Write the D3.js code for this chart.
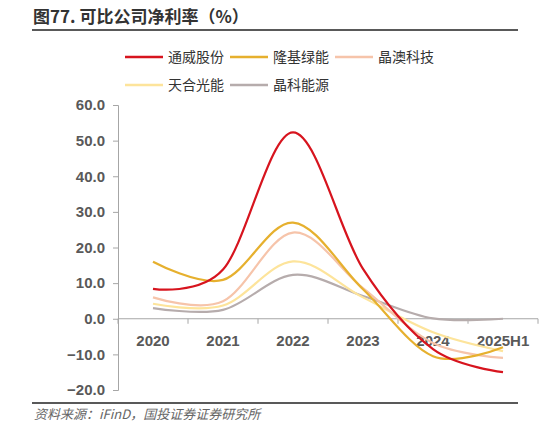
<!DOCTYPE html>
<html>
<head>
<meta charset="utf-8">
<script src="https://cdn.jsdelivr.net/npm/d3@7"></script>
<style>
  body { margin: 0; background: #fff; }
  svg { display: block; }
</style>
</head>
<body>
<div id="chart"></div>
<script>
// ---------------- data ----------------
var categories = ['2020', '2021', '2022', '2023', '2024', '2025H1'];
var seriesNames = ['通威股份', '隆基绿能', '晶澳科技', '天合光能', '晶科能源'];
var tongwei = [8.4, 13.8, 52.3, 14.0, -8.5, -15.0];
var longi   = [16.0, 10.9, 27.0, 8.3, -10.5, -8.0];
var jingao  = [6.0, 4.9, 24.2, 8.6, -6.8, -11.0];
var trina   = [4.2, 3.7, 16.1, 6.0, -3.8, -9.1];
var jinko   = [3.0, 2.5, 12.3, 6.4, 0.1, 0.0];
var yTicks  = [-20, -10, 0, 10, 20, 30, 40, 50, 60];

var seriesValues = [tongwei, longi, jingao, trina, jinko];
var colors = ['#D7141E', '#E6B02E', '#F6C4AA', '#FDE49B', '#B6ACAC'];

var width = 559, height = 430;
var numFont = '"Liberation Sans", Arial, sans-serif';
var cjkFont = '"Noto Sans CJK SC", sans-serif';

var svg = d3.select('#chart').append('svg')
    .attr('width', width)
    .attr('height', height);

// ---------------- title & frame lines ----------------
svg.append('text')
    .attr('x', 33).attr('y', 23)
    .style('font-family', cjkFont)
    .style('font-size', '17px')
    .style('font-weight', 'bold')
    .style('fill', '#333')
    .text('图77. 可比公司净利率（%）');

svg.append('line')
    .attr('x1', 32).attr('x2', 518).attr('y1', 30).attr('y2', 30)
    .style('stroke', '#222').style('stroke-width', 1.3);

svg.append('line')
    .attr('x1', 32).attr('x2', 518).attr('y1', 403).attr('y2', 403)
    .style('stroke', '#222').style('stroke-width', 1.3);

svg.append('text')
    .attr('x', 34).attr('y', 419)
    .style('font-family', cjkFont)
    .style('font-size', '13px')
    .style('font-style', 'italic')
    .style('fill', '#666')
    .text('资料来源：iFinD，国投证券证券研究所');

// ---------------- scales ----------------
var x = d3.scaleBand().domain(categories).range([118, 538]).padding(0);
var y = d3.scaleLinear().domain([-20, 60]).range([390, 105]);
var cx = function(c) { return x(c) + x.bandwidth() / 2; };

// y axis
var yAxis = svg.append('g')
    .attr('transform', 'translate(118,0)')
    .call(d3.axisLeft(y).tickValues(yTicks).tickSize(5).tickPadding(8)
        .tickFormat(d3.format('.1f')));
yAxis.select('.domain').style('stroke', '#a6a6a6');
yAxis.selectAll('.tick line').style('stroke', '#a6a6a6');
yAxis.selectAll('.tick text')
    .style('font-family', numFont)
    .style('font-size', '15px')
    .style('font-weight', 'bold')
    .style('fill', '#595959');

// x axis at zero
var xAxisG = svg.append('g').attr('transform', 'translate(0,' + y(0) + ')');
xAxisG.append('line')
    .attr('x1', x.range()[0]).attr('x2', x.range()[1])
    .style('stroke', '#a6a6a6');
var bounds = categories.map(function(c) { return x(c); }).concat([x.range()[1]]);
xAxisG.selectAll('.xtick').data(bounds).enter().append('line')
    .attr('x1', function(d) { return d; }).attr('x2', function(d) { return d; })
    .attr('y1', 0).attr('y2', 5)
    .style('stroke', '#a6a6a6');
xAxisG.selectAll('.xlabel').data(categories).enter().append('text')
    .attr('x', function(d) { return cx(d); })
    .attr('y', 27)
    .attr('text-anchor', 'middle')
    .style('font-family', numFont)
    .style('font-size', '15px')
    .style('font-weight', 'bold')
    .style('fill', '#595959')
    .text(function(d) { return d; });

// ---------------- lines ----------------
var line = d3.line()
    .x(function(d, i) { return cx(categories[i]); })
    .y(function(d) { return y(d); })
    .curve(d3.curveCardinal.tension(0));

// draw from back to front: grey first, red last
for (var s = seriesValues.length - 1; s >= 0; s--) {
    svg.append('path')
        .datum(seriesValues[s])
        .attr('d', line)
        .style('fill', 'none')
        .style('stroke', colors[s])
        .style('stroke-width', 2.2);
}

// ---------------- legend ----------------
var legendPos = [[125, 57], [230, 57], [335, 57], [125, 85], [230, 85]];
var legend = svg.append('g');
seriesNames.forEach(function(name, i) {
    var p = legendPos[i];
    legend.append('line')
        .attr('x1', p[0]).attr('x2', p[0] + 38)
        .attr('y1', p[1]).attr('y2', p[1])
        .style('stroke', colors[i]).style('stroke-width', 2.5);
    legend.append('text')
        .attr('x', p[0] + 43).attr('y', p[1] + 5)
        .style('font-family', cjkFont)
        .style('font-size', '14px')
        .style('fill', '#333')
        .text(name);
});
</script>
</body>
</html>
